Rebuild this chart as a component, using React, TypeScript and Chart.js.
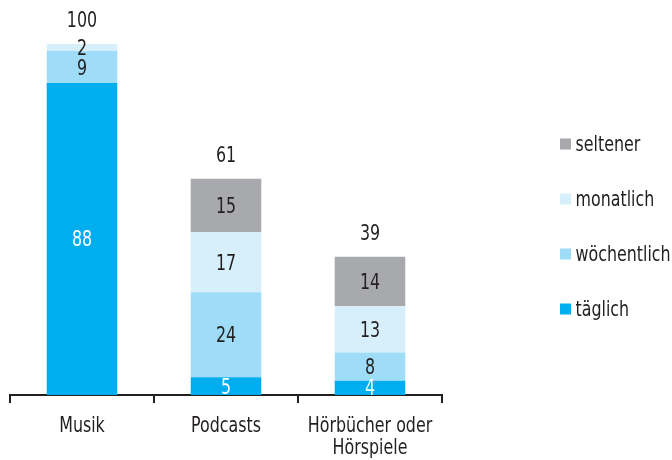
import React, { useEffect, useRef } from "react";
import { Chart, registerables } from "chart.js";

Chart.register(...registerables);

const categories = ["Musik", "Podcasts", "Hörbücher oder Hörspiele"];
const categoryLines = [["Musik"], ["Podcasts"], ["Hörbücher oder", "Hörspiele"]];
const taeglich = [88, 5, 4];
const woechentlich = [9, 24, 8];
const monatlich = [2, 17, 13];
const seltener = [0, 15, 14];
const totals = [100, 61, 39];

const seriesNames = ["täglich", "wöchentlich", "monatlich", "seltener"];
const seriesColors = ["#00aeef", "#9edcf7", "#d6effb", "#a7a9ac"];
const labelColors = ["#ffffff", "#231f20", "#231f20", "#231f20"];

const FONT = "'Liberation Sans Narrow', 'DejaVu Sans Condensed', 'Roboto', sans-serif";
const FONT_SIZE = 20.5;
const SQUEEZE = 0.86;
const CAP = 15;
const TEXT = "#231f20";

function drawText(ctx: CanvasRenderingContext2D, text: string, x: number, baseline: number, align: CanvasTextAlign) {
  ctx.save();
  ctx.translate(x, baseline);
  ctx.scale(SQUEEZE, 1);
  ctx.textAlign = align;
  ctx.textBaseline = "alphabetic";
  ctx.fillText(text, 0, 0);
  ctx.restore();
}

const labelsPlugin = {
  id: "segLabels",
  afterDatasetsDraw(chart: any) {
    const ctx = chart.ctx;
    ctx.save();
    ctx.font = `${FONT_SIZE}px ${FONT}`;
    chart.data.datasets.forEach((ds: any, di: number) => {
      const meta = chart.getDatasetMeta(di);
      meta.data.forEach((bar: any, i: number) => {
        const v = ds.data[i];
        if (!v) return;
        const { x, y, base } = bar.getProps(["x", "y", "base"], true);
        ctx.fillStyle = labelColors[di];
        drawText(ctx, String(v), x, (y + base) / 2 + CAP / 2, "center");
      });
    });
    // totals above stacks
    totals.forEach((t, i) => {
      let top = Infinity;
      let x = 0;
      chart.data.datasets.forEach((_: any, di: number) => {
        const b = chart.getDatasetMeta(di).data[i];
        top = Math.min(top, b.y);
        x = b.x;
      });
      ctx.fillStyle = TEXT;
      drawText(ctx, String(t), x, top - 24 + CAP / 2, "center");
    });
    // category labels
    const xs = chart.scales.x;
    const bottom = chart.chartArea.bottom;
    categoryLines.forEach((lines, i) => {
      const x = xs.getPixelForValue(i);
      lines.forEach((ln, k) => {
        ctx.fillStyle = TEXT;
        drawText(ctx, ln, x, bottom + 37 + k * 22, "center");
      });
    });
    ctx.restore();
  },
};

const legendPlugin = {
  id: "customLegend",
  afterDraw(chart: any) {
    const ctx = chart.ctx;
    ctx.save();
    ctx.font = `${FONT_SIZE}px ${FONT}`;
    const x0 = 560;
    const yStart = 144;
    const step = 55;
    const order = [3, 2, 1, 0];
    order.forEach((si, k) => {
      const y = yStart + k * step;
      ctx.fillStyle = seriesColors[si];
      ctx.fillRect(x0, y - 5.5, 11, 11);
      ctx.fillStyle = TEXT;
      drawText(ctx, seriesNames[si], x0 + 15.5, y + 6.5, "left");
    });
    ctx.restore();
  },
};

export default function App() {
  const ref = useRef<HTMLCanvasElement>(null);
  useEffect(() => {
    document.body.style.margin = "0";
    const data = [taeglich, woechentlich, monatlich, seltener];
    const chart = new Chart(ref.current!, {
      type: "bar",
      data: {
        labels: categories,
        datasets: data.map((d, i) => ({
          label: seriesNames[i],
          data: d,
          backgroundColor: seriesColors[i],
          borderWidth: 0,
          categoryPercentage: 1,
          barPercentage: 0.49,
        })),
      },
      options: {
        animation: false,
        responsive: false,
        maintainAspectRatio: false,
        layout: { padding: { left: 10, right: 230, top: 0, bottom: 0 } },
        plugins: { legend: { display: false }, tooltip: { enabled: false } },
        scales: {
          x: {
            stacked: true,
            afterFit: (scale: any) => {
              scale.height = 65;
            },
            grid: {
              display: true,
              offset: true,
              drawOnChartArea: false,
              drawTicks: true,
              tickLength: 8,
              color: TEXT,
              lineWidth: 2,
            },
            border: { display: true, color: TEXT, width: 2 },
            ticks: {
              display: false,
            },
          },
          y: {
            stacked: true,
            display: false,
            min: 0,
            max: 111.4,
          },
        },
      },
      plugins: [labelsPlugin, legendPlugin],
    });
    return () => chart.destroy();
  }, []);
  return (
    <div style={{ width: 672, height: 460 }}>
      <canvas ref={ref} width={672} height={460} style={{ display: "block" }} />
    </div>
  );
}
